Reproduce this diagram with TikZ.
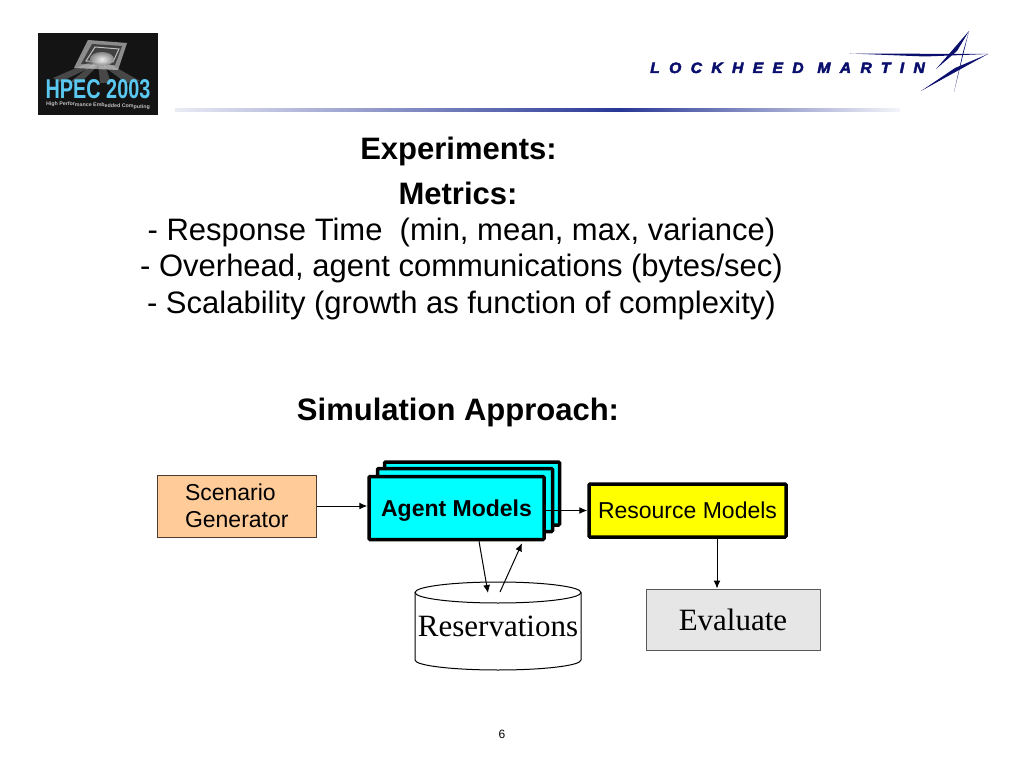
\documentclass[tikz,border=0pt]{standalone}
\usepackage{fontspec}
\usepackage{xcolor}
\setmainfont{Liberation Sans}
\newfontfamily\timesfont{Liberation Serif}
\newfontfamily\logofont[LetterSpace=62,FakeStretch=1.05,FakeBold=3]{Liberation Sans}
\usepackage{tikz}
\usetikzlibrary{arrows.meta,calc}
\definecolor{NaranjaCaja}{RGB}{255,204,153}
\definecolor{CianCaja}{RGB}{0,255,255}
\definecolor{AmarilloCaja}{RGB}{255,255,0}
\definecolor{GrisCaja}{RGB}{230,230,230}
\definecolor{AzulLogo}{RGB}{10,15,110}
\definecolor{AzulBarra}{RGB}{40,55,150}
\definecolor{CianLogo}{RGB}{90,200,240}
\tikzset{
  titletxt/.style={anchor=base,inner sep=0pt,font=\fontsize{31}{36}\selectfont\bfseries},
  bodytxt/.style={anchor=base,inner sep=0pt,font=\fontsize{31}{36}\selectfont},
  thickbox/.style={draw=black,line width=3.5pt,rounded corners=1pt,inner sep=0pt,text depth=0pt},
  agentbox/.style={thickbox,fill=CianCaja,minimum width=175pt,minimum height=63pt},
  thinarrow/.style={->,line width=1pt}
}
\begin{document}
\begin{tikzpicture}[>={Latex[length=8pt,width=7pt]},x=1pt,y=-1pt]
  \useasboundingbox (0,0) rectangle (1023,767);
  % logo left
  \fill[black!92] (38,33) rectangle (158,115);
  \fill[black!45] (88,40)--(127,43)--(118,70)--(74,68)--cycle;
  \fill[black!75] (92,44)--(122,46)--(115,65)--(81,64)--cycle;
  \draw[black!25,line width=1pt] (95,47)--(119,49)--(113,62)--(86,61)--cycle;
  \fill[white,opacity=.22] (98,62)--(106,62)--(140,81)--(126,83)--cycle;
  \fill[white,opacity=.22] (98,62)--(104,62)--(111,83)--(100,83)--cycle;
  \fill[white,opacity=.22] (96,62)--(102,62)--(80,83)--(70,82)--cycle;
  \fill[white,opacity=.22] (95,60)--(100,63)--(60,82)--(53,78)--cycle;
  \shade[inner color=white,outer color=black!45,opacity=.9] (102,59) ellipse (12 and 7);
  \node[inner sep=0pt,text=CianLogo,xscale=.62,yscale=.85,font=\fontsize{32}{32}\selectfont\bfseries] (hpec) at (98,89) {HPEC 2003};
  \node[inner sep=0pt,text=black!25,rotate=-2,font=\fontsize{5.3}{6}\selectfont\bfseries] (hpecsub) at (98,105.5) {High Performance Embedded Computing};
  % logo right
  \node[anchor=base west,inner sep=0pt,text=AzulLogo,font=\fontsize{15}{15}\logofont\bfseries\itshape] (lockheed) at (650,73) {LOCKHEED MARTIN};
  \fill[AzulLogo] (850,53.5)--(988,54)--(925,56.5)--cycle;
  \fill[AzulLogo] (969,31)--(936,69)--(957,51)--cycle;
  \fill[AzulLogo] (969,31)--(954,92)--(963,52)--cycle;
  \fill[AzulLogo] (988,54)--(921,91)--(955,68)--cycle;
  % bar
  \shade[left color=AzulBarra!10,right color=AzulBarra] (175,108.5) rectangle (620,111.5);
  \shade[left color=AzulBarra,right color=AzulBarra!5] (620,108.5) rectangle (900,111.5);
  % text
  \node[titletxt] (experiments) at (458.5,160) {Experiments:};
  \node[titletxt] (metrics) at (458,205) {Metrics:};
  \node[bodytxt] (response) at (461.5,241) {- Response Time\ \ (min, mean, max, variance)};
  \node[bodytxt] (overhead) at (461.5,277) {- Overhead, agent communications (bytes/sec)};
  \node[bodytxt] (scalability) at (461.5,313.5) {- Scalability (growth as function of complexity)};
  \node[titletxt] (simulation) at (458,420) {Simulation Approach:};
  % boxes
  \node[draw=black!70!NaranjaCaja,fill=NaranjaCaja,line width=1pt,minimum height=62pt,inner xsep=28pt,inner ysep=0pt,text width=103pt,align=left,
    font=\fontsize{23}{27}\selectfont] (scenario) at (236.5,506) {Scenario\\Generator};
  \node[agentbox] (agentback) at (472,493.5) {};
  \node[agentbox] (agentmid) at (465,500) {};
  \node[agentbox,font=\fontsize{23}{27}\selectfont\bfseries] (agent) at (456.5,508) {Agent Models};
  \node[thickbox,fill=AmarilloCaja,minimum width=197pt,minimum height=53pt,font=\fontsize{23}{27}\selectfont] (resource) at (687.5,510.5) {Resource Models};
  % cylinder
  \draw[line width=1pt] (415,592.5) -- (415,660) arc[start angle=180,end angle=0,x radius=83,y radius=10] -- (581,592.5);
  \draw[line width=1pt] (498,592.5) ellipse (83 and 10.5);
  \coordinate (dbin) at (488,593);
  \coordinate (dbout) at (500,592);
  \node[inner sep=0pt,font=\fontsize{31}{36}\timesfont] (reservations) at (498,626) {Reservations};
  \node[draw=black!65,fill=GrisCaja,line width=1pt,minimum width=174pt,minimum height=61pt,inner sep=0pt,font=\fontsize{31}{36}\timesfont] (evaluate) at (733,619.5) {Evaluate};
  % arrows
  \draw[thinarrow] (scenario.east) -- (scenario.east -| agent.west);
  \draw[thinarrow] (agent.east |- resource.west) -- (resource.west);
  \draw[thinarrow] ([xshift=22.5pt]agent.south) -- (dbin);
  \draw[thinarrow] (dbout) -- ([xshift=65.5pt,yshift=-2pt]agent.south);
  \draw[thinarrow] ([xshift=29.5pt]resource.south) -- ([xshift=-16pt]evaluate.north);
  \node[inner sep=0pt,font=\fontsize{12}{14}\selectfont] (pagenum) at (502,734) {6};
\end{tikzpicture}
\end{document}
